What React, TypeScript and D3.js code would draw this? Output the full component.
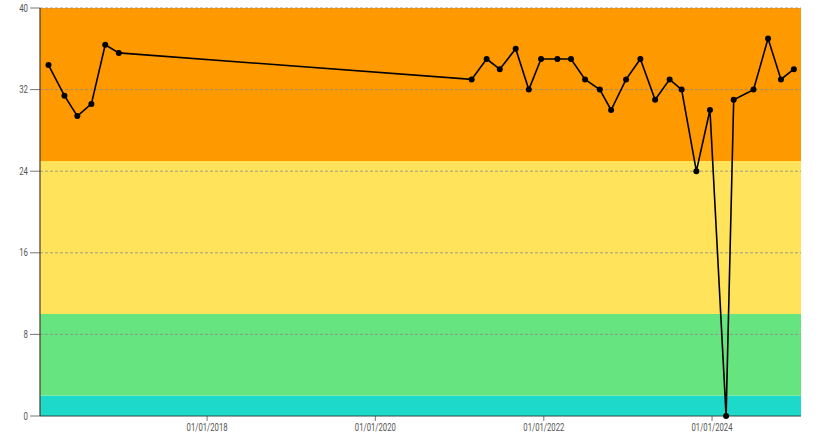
import React from "react";
import * as d3 from "d3";

const dates: string[] = [
  "2016-02-13", "2016-04-22", "2016-06-17", "2016-08-17", "2016-10-16", "2016-12-14",
  "2021-02-22", "2021-04-28", "2021-06-24", "2021-09-01", "2021-10-28", "2021-12-20",
  "2022-03-01", "2022-04-29", "2022-06-29", "2022-09-01", "2022-10-20", "2022-12-24",
  "2023-02-24", "2023-04-29", "2023-07-01", "2023-08-22", "2023-10-25", "2023-12-23",
  "2024-03-02", "2024-04-04", "2024-06-29", "2024-08-31", "2024-10-26", "2024-12-21",
];
const values: number[] = [
  34.4, 31.4, 29.4, 30.6, 36.4, 35.6,
  33, 35, 34, 36, 32, 35,
  35, 35, 33, 32, 30, 33,
  35, 31, 33, 32, 24, 30,
  0, 31, 32, 37, 33, 34,
];
const bandFrom: number[] = [0, 2, 10, 25];
const bandTo: number[] = [2, 10, 25, 40];
const bandColors: string[] = ["#1dd9ca", "#66e47f", "#ffe35a", "#ff9900"];
const yTicks: number[] = [0, 8, 16, 24, 32, 40];
const xTickDates: string[] = ["2018-01-01", "2020-01-01", "2022-01-01", "2024-01-01"];
const domainStart = "2016-01-07";
const domainEnd = "2025-01-21";

const W = 820, H = 440;
const m = { left: 40, right: 19, top: 8, bottom: 24 };

export default function App() {
  const parse = d3.utcParse("%Y-%m-%d");
  const x = d3.scaleUtc()
    .domain([parse(domainStart)!, parse(domainEnd)!])
    .range([m.left, W - m.right]);
  const y = d3.scaleLinear().domain([0, 40]).range([H - m.bottom, m.top]);
  const fmt = d3.utcFormat("%d/%m/%Y");
  const pts = dates.map((d, i) => ({ d: parse(d)!, v: values[i] }));
  const line = d3.line<{ d: Date; v: number }>().x(p => x(p.d)).y(p => y(p.v));
  const x0 = m.left, x1 = W - m.right;
  const font = "Roboto, 'DejaVu Sans', sans-serif";
  return (
    <svg width={W} height={H} style={{ position: "absolute", left: 0, top: 0 }}>
      <rect x={0} y={0} width={W} height={H} fill="#fff" />
      {bandFrom.map((b, i) => (
        <rect key={i} x={x0} width={x1 - x0} y={y(bandTo[i])} height={y(bandFrom[i]) - y(bandTo[i])} fill={bandColors[i]} />
      ))}
      {yTicks.filter(t => t > 0).map(t => (
        <line key={t} x1={x0} x2={x1} y1={y(t)} y2={y(t)} stroke="#8a8a8a" strokeWidth={0.8} strokeDasharray="3,2" />
      ))}
      {yTicks.map(t => (
        <g key={"yt" + t}>
          <line x1={x0 - 10} x2={x0} y1={y(t)} y2={y(t)} stroke="#777" strokeWidth={1} />
          <text x={x0 - 12} y={y(t)} dy="0.35em" textAnchor="end" fontSize={10} fill="#555" fontFamily={font}
            textLength={String(t).length * 4.4} lengthAdjust="spacingAndGlyphs">{t}</text>
        </g>
      ))}
      {xTickDates.map(s => {
        const d = parse(s)!;
        return (
          <g key={s}>
            <line x1={x(d)} x2={x(d)} y1={y(0)} y2={y(0) + 5} stroke="#777" />
            <text x={x(d) - 20.5} y={y(0) + 15} textAnchor="start" fontSize={10} fill="#555" fontFamily={font}
              textLength={41} lengthAdjust="spacingAndGlyphs">{fmt(d)}</text>
          </g>
        );
      })}
      <line x1={x0} x2={x0} y1={y(40)} y2={y(0)} stroke="#4a3a2a" strokeWidth={1.2} />
      <line x1={x0} x2={x1} y1={y(0)} y2={y(0)} stroke="#2a4a48" strokeWidth={1.2} />
      <path d={line(pts) ?? ""} fill="none" stroke="#000" strokeWidth={1.6} />
      {pts.map((p, i) => (
        <circle key={i} cx={x(p.d)} cy={y(p.v)} r={3} fill="#000" />
      ))}
    </svg>
  );
}
